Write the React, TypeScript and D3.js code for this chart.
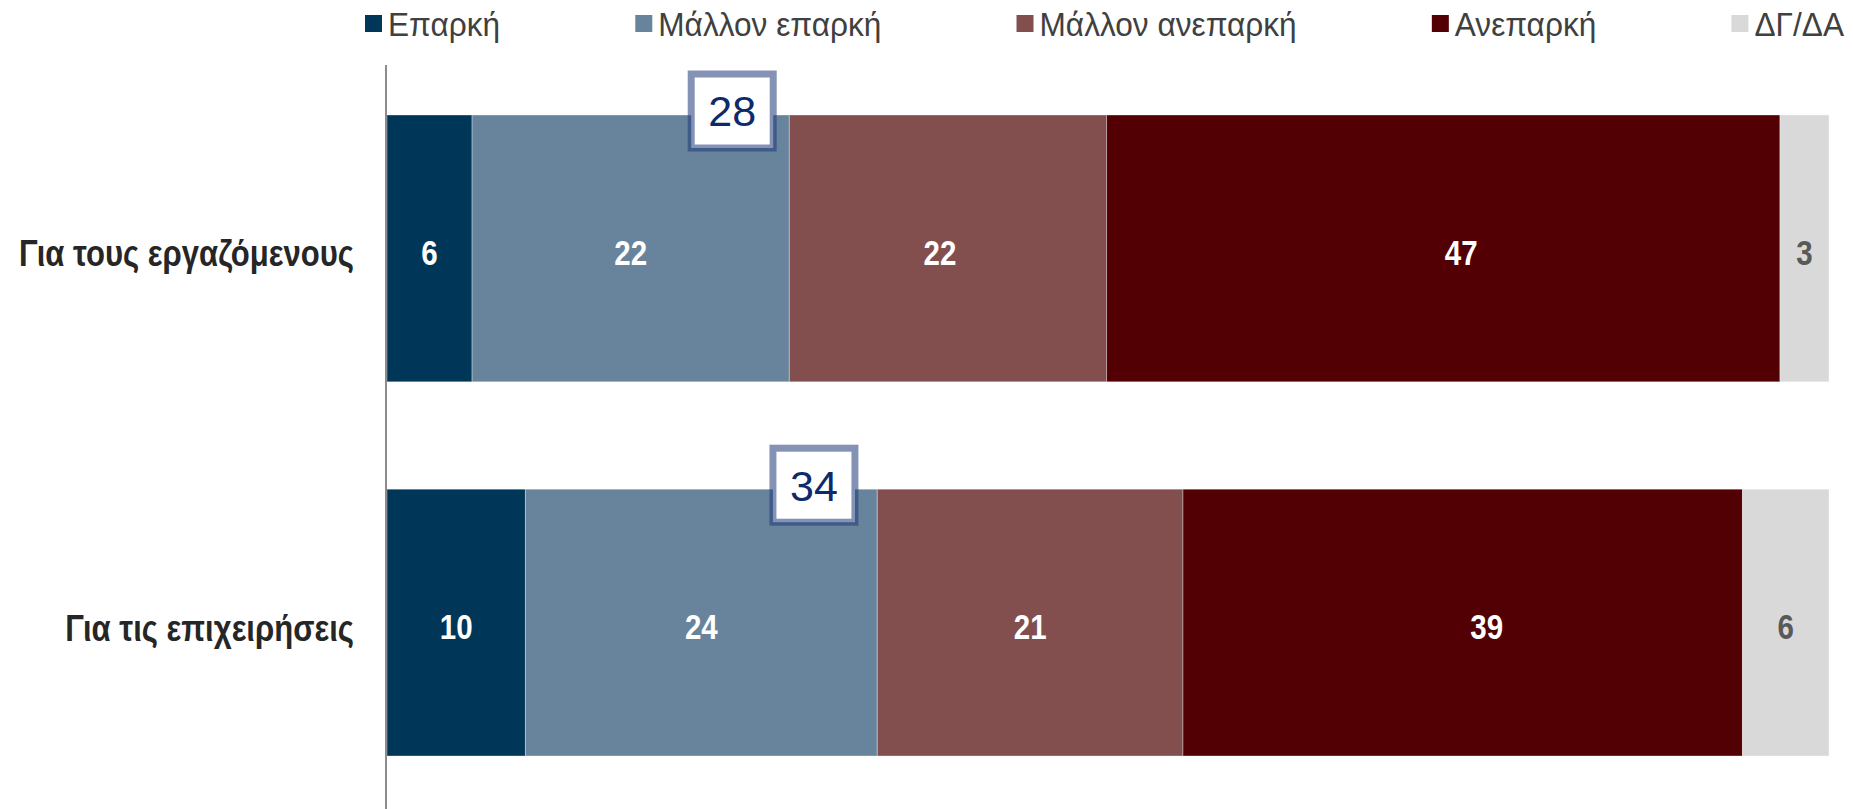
import React, { useEffect, useRef } from 'react';
import * as d3 from 'd3';

const categories = ['Για τους εργαζόμενους', 'Για τις επιχειρήσεις'];
const seriesNames = ['Επαρκή', 'Μάλλον επαρκή', 'Μάλλον ανεπαρκή', 'Ανεπαρκή', 'ΔΓ/ΔΑ'];
const seriesColors = ['#003658', '#67849c', '#834e4e', '#520003', '#d9d9d9'];
// shares per category, in series order
const workersValues = [5.9, 22.0, 22.0, 46.7, 3.4];
const businessValues = [9.6, 24.4, 21.2, 38.8, 6.0];
// sum of the two "adequate" answers, shown in the boxes
const adequateTotals = [28, 34];

// hand-moved labels in the original (px, per row and series)
const labelShift = [
  [0, 0, -8, 18, 0],
  [0, 0, 0, 24, 0],
];

const W = 1853;
const H = 809;
const font = "'Liberation Sans', Arial, sans-serif";
const narrowX = 0.82; // squeeze to mimic Arial Narrow
const catX = 0.84;
const legendX = 0.93;

// text that is squeezed horizontally around its anchor point
function squeezed(
  parent: d3.Selection<any, unknown, null, undefined>,
  x: number,
  y: number,
  sx: number,
) {
  return parent.append('text')
    .attr('transform', `translate(${x},${y}) scale(${sx},1)`)
    .attr('font-family', font);
}

export default function App() {
  const svgRef = useRef<SVGSVGElement>(null);

  useEffect(() => {
    if (!svgRef.current) return;
    const svg = d3.select(svgRef.current);
    svg.selectAll('*').remove();

    const rows = [workersValues, businessValues];

    const x = d3.scaleLinear().domain([0, 100]).range([387, 1829]);
    const y = d3.scaleBand<string>()
      .domain(categories)
      .range([115, 756])
      .paddingInner(0.287)
      .paddingOuter(0);

    rows.forEach((vals, i) => {
      const cat = categories[i];
      const mid = y(cat)! + y.bandwidth() / 2;
      const g = svg.append('g');
      let acc = 0;
      vals.forEach((v, j) => {
        const x0 = x(acc);
        const x1 = x(acc + v);
        acc += v;
        g.append('rect')
          .attr('x', x0)
          .attr('y', y(cat)!)
          .attr('width', x1 - x0)
          .attr('height', y.bandwidth())
          .attr('fill', seriesColors[j])
          .attr('stroke', '#ffffff')
          .attr('stroke-opacity', 0.35)
          .attr('stroke-width', 1);
        squeezed(g, (x0 + x1) / 2 + labelShift[i][j], mid + 4, narrowX)
          .attr('dy', '0.35em')
          .attr('text-anchor', 'middle')
          .attr('font-weight', 'bold')
          .attr('font-size', 36)
          .attr('fill', j === 4 ? '#595959' : '#ffffff')
          .text(Math.round(v));
      });

      // category label
      squeezed(svg, 354, mid + 5, catX)
        .attr('dy', '0.35em')
        .attr('text-anchor', 'end')
        .attr('font-weight', 'bold')
        .attr('font-size', 37)
        .attr('fill', '#262626')
        .text(cat);

      // callout box with the adequate total
      const segStart = x(vals[0]);
      const segEnd = x(vals[0] + vals[1]);
      const cx = segStart + 0.82 * (segEnd - segStart);
      const top = y(cat)! - 41;
      const bw = 82;
      const bh = 74;
      svg.append('rect')
        .attr('x', cx - bw / 2)
        .attr('y', top)
        .attr('width', bw)
        .attr('height', bh)
        .attr('fill', '#ffffff')
        .attr('stroke', '#1f3a78')
        .attr('stroke-opacity', 0.55)
        .attr('stroke-width', 7);
      svg.append('text')
        .attr('x', cx)
        .attr('y', top + bh / 2)
        .attr('dy', '0.36em')
        .attr('text-anchor', 'middle')
        .attr('font-family', font)
        .attr('font-size', 43)
        .attr('fill', '#0d2a6b')
        .text(adequateTotals[i]);
    });

    // vertical axis line
    svg.append('line')
      .attr('x1', 386).attr('x2', 386)
      .attr('y1', 65).attr('y2', H)
      .attr('stroke', '#8c8c8c')
      .attr('stroke-width', 2);

    // legend: items spread evenly between left and right edges
    const legend = svg.append('g');
    const legStart = 365;
    const legEnd = 1844;
    const items = seriesNames.map((name, j) => {
      const sq = legend.append('rect')
        .attr('y', 15)
        .attr('width', 17)
        .attr('height', 17)
        .attr('fill', seriesColors[j]);
      const t = legend.append('text')
        .attr('font-family', font)
        .attr('dy', '0.35em')
        .attr('font-size', 34)
        .attr('fill', '#404040')
        .text(name);
      const tw = (t.node() as SVGTextElement).getComputedTextLength() * legendX;
      return { sq, t, w: 23 + tw };
    });
    const total = d3.sum(items, (d) => d.w);
    const gap = (legEnd - legStart - total) / (items.length - 1);
    let lx = legStart;
    items.forEach((it) => {
      it.sq.attr('x', lx);
      it.t.attr('transform', `translate(${lx + 23},24) scale(${legendX},1)`);
      lx += it.w + gap;
    });
  }, []);

  return (
    <svg
      ref={svgRef}
      width={W}
      height={H}
      style={{ position: 'absolute', left: 0, top: 0, display: 'block', background: '#ffffff' }}
    />
  );
}
